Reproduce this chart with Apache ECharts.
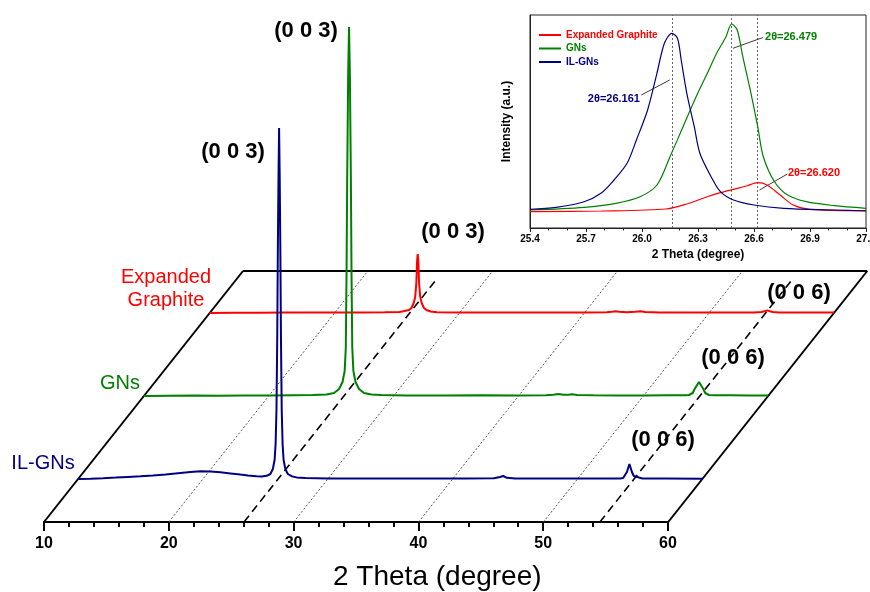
<!DOCTYPE html>
<html><head><meta charset="utf-8">
<script src="https://cdn.jsdelivr.net/npm/echarts@6/dist/echarts.min.js"></script>
<style>html,body{margin:0;padding:0;background:#fff}#c{width:870px;height:592px}</style>
</head><body><div id="c"></div>
<script>
const FONT = '"Liberation Sans", Arial, sans-serif';

// ---------- main (waterfall) data ----------
const sampleNames = ['Expanded Graphite', 'GNs', 'IL-GNs'];
const sampleColors = ['#FF0000', '#008000', '#000080'];
const sampleDepths = [209, 126, 43];          // offset of each trace baseline (intensity units)
const frameDepth = 251;                        // depth of the slanted back plane
const frameShift = 15.94;                      // 2θ shift of the back plane (degree)
const mainTicks = [10, 20, 30, 40, 50, 60];
const dottedGuides = [20, 30, 40, 50];
const dashedGuides = [26.02, 54.53];
const dashedDepth = 244;

// 2θ (degree), intensity (a.u.)
const egData = [
  [10,0],[12,0.3],[14,0.2],[16,0.5],[18,0.4],[20,0.6],[22,0.5],[24,0.7],[25.2,1],[25.6,2],[25.96,3],
  [26.16,5],[26.34,10],[26.46,16],[26.55,30],[26.61,52],[26.66,59],[26.71,52],[26.77,30],[26.86,16],
  [26.98,10],[27.16,5],[27.36,3],[27.7,1.5],[28.2,0.8],[30,0.5],[32,0.6],[34,0.4],[36,0.6],[38,0.5],
  [40,0.6],[41.8,0.7],[42.2,1.3],[42.5,1.8],[42.8,1.2],[43.4,0.8],[44.1,1.2],[44.5,1.8],[44.9,1.1],
  [46,0.6],[48,0.5],[50,0.6],[52,0.5],[53.6,0.6],[54.2,1],[54.45,1.8],[54.66,2.6],[54.87,1.8],[55.1,1],
  [55.6,0.6],[57,0.5],[58.5,0.6],[60,0.5]
];
const gnData = [
  [10,0],[12,0.3],[14,0.4],[16,0.3],[18,0.6],[20,0.5],[22,0.8],[23.5,0.9],[24.63,1.5],[25.23,3],
  [25.63,7],[25.91,14],[26.08,25],[26.17,48],[26.23,120],[26.28,214],[26.36,320],[26.43,369],
  [26.50,320],[26.58,214],[26.63,120],[26.69,48],[26.78,25],[26.95,14],[27.23,7],[27.63,3],[28.23,1.5],
  [29,0.9],[31,0.6],[34,0.5],[37,0.7],[40,0.6],[42.2,0.8],[42.8,1.3],[43.2,2],[43.6,1.3],[44.0,1.2],
  [44.3,1.8],[44.7,1.1],[46,0.7],[48,0.6],[50,0.6],[52,0.7],[53.4,0.8],[53.66,1],[53.96,3],[54.11,7],
  [54.26,10],[54.36,12],[54.46,14],[54.56,12],[54.66,10],[54.81,7],[54.96,3],[55.26,1],[55.8,0.7],
  [57,0.8],[58.5,0.6],[60,0.6]
];
const ilData = [
  [10,0],[11,0.3],[12,0.8],[13,1.4],[14,2.1],[15,2.8],[16,3.6],[17,4.6],[18,5.8],[19,7],[19.8,7.8],
  [20.6,7.6],[21.4,6.8],[22.2,5.6],[23,4.4],[23.6,3.6],[24.3,2.8],[24.7,2.6],[25.1,3.2],[25.4,5],
  [25.6,10],[25.74,19],[25.82,35],[25.89,69],[25.95,140],[26.0,230],[26.05,300],[26.10,351],
  [26.15,300],[26.20,230],[26.25,140],[26.31,69],[26.38,35],[26.46,19],[26.6,10],[26.8,5],
  [27.1,2.8],[27.5,1.6],[28.2,0.9],[30,0.5],[32,0.4],[35,0.6],[38,0.4],[41,0.6],[43.3,0.8],
  [43.8,2],[44.05,3],[44.35,1.2],[45,0.5],[47,0.6],[50,0.4],[52,0.5],[53.4,0.6],[53.66,1],
  [53.81,3],[53.96,7],[54.06,11],[54.16,15],[54.26,11],[54.36,7],[54.51,3],[54.66,1],[55.2,0.5],
  [57,0.4],[60,0.3]
];
const mainTraces = [egData, gnData, ilData];

// hkl and sample labels: [2θ, intensity, text]
const hklLabels = [
  [25.14, 370, '(0 0 3)'], [30.99, 491, '(0 0 3)'], [42.76, 290, '(0 0 3)'],
  [59.58, 82, '(0 0 6)'], [65.19, 164, '(0 0 6)'], [70.47, 229, '(0 0 6)']
];
const sampleLabels = [
  [19.77, 233.5, 'Expanded\nGraphite'], [16.09, 139, 'GNs'], [9.92, 59, 'IL-GNs']
];

// ---------- inset data ----------
const insetEG = [
  [25.40,16.3],[25.78,17],[26.13,19],[26.24,24],[26.35,31.3],[26.42,35.3],[26.49,38.7],[26.56,42],
  [26.62,45.3],[26.67,43],[26.74,33],[26.81,23],[26.90,18.7],[27.2,17.3]
];
const insetGN = [
  [25.40,18],[25.69,20.7],[25.86,24.7],[25.99,31.3],[26.08,43],[26.15,71.3],[26.22,101.3],[26.29,131.3],
  [26.35,154.7],[26.40,174.7],[26.45,191.3],[26.48,204],[26.51,198],[26.54,171.3],[26.58,138],
  [26.62,101.3],[26.65,71.3],[26.71,46.3],[26.78,33],[26.88,26.3],[27.03,22.3],[27.2,19.7]
];
const insetIL = [
  [25.40,18.7],[25.54,20.7],[25.69,26.3],[25.78,34.7],[25.85,48],[25.92,64.7],[25.97,88],[26.03,118],
  [26.08,154.7],[26.12,184.7],[26.16,194.7],[26.19,189.7],[26.21,168],[26.24,134.7],[26.28,101.3],
  [26.31,74.7],[26.37,51.3],[26.42,36.3],[26.49,28],[26.60,23],[26.76,19.7],[27.03,18],[27.2,17]
];
const insetTraces = [insetEG, insetGN, insetIL];
const peakPositions = [26.161, 26.479, 26.620];
// annotation text: [2θ, intensity, text, align, colour index]
const insetNotes = [
  [26.659, 191, '2θ=26.479', 'left', 1],
  [25.989, 129, '2θ=26.161', 'right', 2],
  [26.782, 55, '2θ=26.620', 'left', 0]
];
// arrows: [[x1,y1],[x2,y2]] (head at second point)
const insetArrows = [
  [[26.648, 190.5], [26.487, 179.7]],
  [[25.996, 133], [26.148, 148]],
  [[26.779, 54], [26.629, 38]]
];

// ---------- build ----------
const k = frameShift / frameDepth;
function place(data, depth) { return data.map(p => [p[0] + depth * k, p[1] + depth]); }

const series = [];
function seg(a, b, style, z) {
  series.push({ type: 'line', xAxisIndex: 0, yAxisIndex: 0, data: [a, b], symbol: 'none', clip: false,
    silent: true, lineStyle: style, z: z });
}
// frame (bottom edge is the tick axis line)
seg([10, 0], [10 + frameShift, frameDepth], { color: '#000', width: 2 }, 2);
seg([10 + frameShift, frameDepth], [60 + frameShift, frameDepth], { color: '#000', width: 2 }, 2);
seg([60, 0], [60 + frameShift, frameDepth], { color: '#000', width: 2 }, 2);
dottedGuides.forEach(v => seg([v, 0], [v + frameShift, frameDepth], { color: '#555', width: 1, type: [2, 2] }, 1));
dashedGuides.forEach(v => seg([v, 0], [v + dashedDepth * k, dashedDepth], { color: '#000', width: 1.6, type: [8, 5] }, 1));

mainTraces.forEach((d, i) => {
  series.push({ type: 'line', name: 'main ' + sampleNames[i], xAxisIndex: 0, yAxisIndex: 0,
    data: place(d, sampleDepths[i]), symbol: 'none', clip: false, silent: true,
    lineStyle: { color: sampleColors[i], width: 2 }, z: 3 + i });
});

const labelBase = { type: 'scatter', clip: false, silent: true, symbolSize: 1,
  itemStyle: { color: 'rgba(0,0,0,0)', opacity: 1 }, z: 10 };
series.push(Object.assign({}, labelBase, { xAxisIndex: 0, yAxisIndex: 0,
  data: hklLabels.map(l => ({ value: [l[0], l[1]], label: { formatter: l[2] } })),
  label: { show: true, position: 'inside', color: '#000', opacity: 1, textBorderWidth: 0,
    fontFamily: FONT, fontWeight: 'bold', fontSize: 22 } }));
series.push(Object.assign({}, labelBase, { xAxisIndex: 0, yAxisIndex: 0,
  data: sampleLabels.map((l, i) => ({ value: [l[0], l[1]], label: { formatter: l[2], color: sampleColors[i] } })),
  label: { show: true, position: 'inside', opacity: 1, textBorderWidth: 0,
    fontFamily: FONT, fontSize: 20, lineHeight: 23, align: 'center' } }));

// inset
insetTraces.forEach((d, i) => {
  const s = { type: 'line', name: sampleNames[i], xAxisIndex: 1, yAxisIndex: 1, data: d, symbol: 'none',
    smooth: 0.3, silent: true, lineStyle: { color: sampleColors[i], width: 1.2 }, itemStyle: { color: sampleColors[i] }, z: 5 };
  if (i === 0) {
    s.markLine = { silent: true, symbol: 'none', animation: false, label: { show: false },
      lineStyle: { color: '#666', width: 1, type: [2, 2] },
      data: peakPositions.map(v => ({ xAxis: v })) };
  }
  if (i === 1) {
    s.markLine = { silent: true, symbol: ['none', 'arrow'], symbolSize: [0, 7], animation: false, label: { show: false },
      lineStyle: { color: '#222', width: 0.9, type: 'solid' },
      data: insetArrows.map(a => [{ coord: a[0] }, { coord: a[1] }]) };
  }
  series.push(s);
});
series.push(Object.assign({}, labelBase, { xAxisIndex: 1, yAxisIndex: 1,
  data: insetNotes.map(n => ({ value: [n[0], n[1]], label: { formatter: n[2], align: n[3], color: sampleColors[n[4]] } })),
  label: { show: true, position: 'inside', opacity: 1, textBorderWidth: 0,
    fontFamily: FONT, fontWeight: 'bold', fontSize: 11 } }));

const option = {
  animation: false,
  backgroundColor: '#fff',
  grid: [
    { left: 44, right: 2, top: 22, bottom: 70, outerBoundsMode: 'none', containLabel: false },
    { left: 530, right: 4, top: 15, bottom: 364, outerBoundsMode: 'none', containLabel: false,
      show: true, borderColor: '#222', borderWidth: 1 },
    { left: 44, right: 202, top: 500, bottom: 70, outerBoundsMode: 'none', containLabel: false }
  ],
  xAxis: [
    { type: 'value', gridIndex: 0, min: 10, max: 76, show: false },
    { type: 'value', gridIndex: 1, min: 25.4, max: 27.2, interval: 0.3,
      name: '2 Theta (degree)', nameLocation: 'middle', nameGap: 21,
      nameTextStyle: { color: '#000', fontFamily: FONT, fontWeight: 'bold', fontSize: 12 },
      axisLine: { show: true, onZero: false, lineStyle: { color: '#222', width: 1 } },
      axisTick: { show: true, inside: false, length: 4, lineStyle: { color: '#222', width: 1 } },
      minorTick: { show: true, splitNumber: 3, length: 2.5, lineStyle: { color: '#222', width: 1 } },
      splitLine: { show: false },
      axisLabel: { color: '#000', fontFamily: FONT, fontWeight: 'bold', fontSize: 10, margin: 6,
        formatter: v => v.toFixed(1) } },
    { type: 'value', gridIndex: 2, min: mainTicks[0], max: mainTicks[mainTicks.length - 1], interval: 10,
      axisLine: { show: true, onZero: false, lineStyle: { color: '#000', width: 2 } },
      axisTick: { show: true, inside: false, length: 9, lineStyle: { color: '#000', width: 2 } },
      minorTick: { show: true, splitNumber: 5, length: 5, lineStyle: { color: '#000', width: 2 } },
      splitLine: { show: false },
      axisLabel: { color: '#000', fontFamily: FONT, fontWeight: 'bold', fontSize: 16, margin: 14 } }
  ],
  yAxis: [
    { type: 'value', gridIndex: 0, min: 0, max: 500, show: false },
    { type: 'value', gridIndex: 1, min: 0, max: 213,
      name: 'Intensity (a.u.)', nameLocation: 'middle', nameGap: 17,
      nameTextStyle: { color: '#000', fontFamily: FONT, fontWeight: 'bold', fontSize: 12 },
      axisLine: { show: true, onZero: false, lineStyle: { color: '#222', width: 1 } },
      axisTick: { show: false }, axisLabel: { show: false }, splitLine: { show: false } },
    { type: 'value', gridIndex: 2, min: 0, max: 1, show: false }
  ],
  legend: {
    orient: 'vertical', left: 533, top: 24, itemWidth: 22, itemHeight: 10, itemGap: 1.5, itemStyle: { opacity: 0 },
    selectedMode: false,
    data: sampleNames.map((n, i) => ({ name: n, textStyle: { color: sampleColors[i] } })),
    textStyle: { fontFamily: FONT, fontWeight: 'bold', fontSize: 10, lineHeight: 12 }
  },
  graphic: [
    { type: 'text', left: 333, top: 563, silent: true,
      style: { text: '2 Theta (degree)', fill: '#000', font: '28px ' + FONT } }
  ],
  series: series
};
const chart = echarts.init(document.getElementById('c'), null, { renderer: 'canvas' });
chart.setOption(option);
</script>
</body></html>
